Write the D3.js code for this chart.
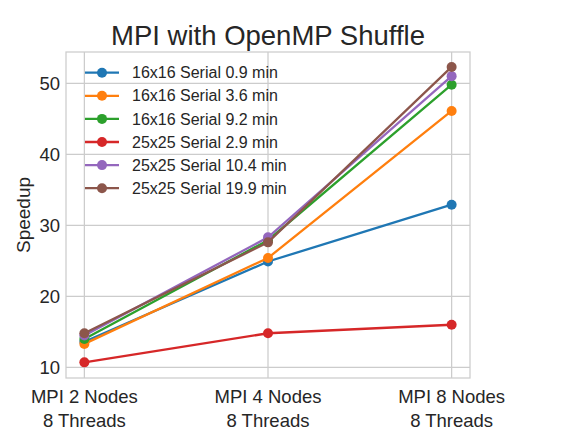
<!DOCTYPE html>
<html><head><meta charset="utf-8">
<script src="https://cdn.jsdelivr.net/npm/d3@7"></script>
<style>body{margin:0;background:#fff}svg{display:block;font-family:"Liberation Sans",Arial,sans-serif}</style>
</head><body><svg id="c" width="576" height="432"></svg>
<script>
const categories = ["MPI 2 Nodes\n8 Threads", "MPI 4 Nodes\n8 Threads", "MPI 8 Nodes\n8 Threads"];
const seriesNames = ["16x16 Serial 0.9 min","16x16 Serial 3.6 min","16x16 Serial 9.2 min","25x25 Serial 2.9 min","25x25 Serial 10.4 min","25x25 Serial 19.9 min"];
const s1 = [13.6, 24.9, 32.9];
const s2 = [13.3, 25.4, 46.1];
const s3 = [14.0, 27.9, 49.8];
const s4 = [10.7, 14.8, 16.0];
const s5 = [14.5, 28.3, 51.0];
const s6 = [14.8, 27.6, 52.3];
const yTicks = [10, 20, 30, 40, 50];
const colors = ["#1f77b4","#ff7f0e","#2ca02c","#d62728","#9467bd","#8c564b"];
const series = [s1,s2,s3,s4,s5,s6];

const svg = d3.select("#c");
const L = 66, R = 470, T = 52, B = 378;
const x = d3.scaleLinear().domain([-0.1, 2.1]).range([L, R]);
const y = d3.scaleLinear().domain([8.5, 54.4]).range([B, T]);

// grid
const g = svg.append("g");
g.selectAll("line.h").data(yTicks).join("line")
  .attr("x1", L).attr("x2", R).attr("y1", d => y(d)).attr("y2", d => y(d))
  .attr("stroke", "#cccccc").attr("stroke-width", 1.25);
g.selectAll("line.v").data(categories.map((c,i)=>i)).join("line")
  .attr("y1", T).attr("y2", B).attr("x1", d => x(d)).attr("x2", d => x(d))
  .attr("stroke", "#cccccc").attr("stroke-width", 1.25);
svg.append("rect").attr("x", L).attr("y", T).attr("width", R-L).attr("height", B-T)
  .attr("fill", "none").attr("stroke", "#cccccc").attr("stroke-width", 1.25);

// y axis
const yAxis = d3.axisLeft(y).tickValues(yTicks).tickSize(0).tickPadding(6);
const ya = svg.append("g").attr("transform", `translate(${L},0)`).call(yAxis);
ya.select(".domain").remove();
ya.selectAll("text").attr("font-size", 18.5).attr("fill", "#262626").attr("font-family", "Liberation Sans, Arial, sans-serif");

// x axis
const xAxis = d3.axisBottom(x).tickValues([0,1,2]).tickSize(0).tickFormat("");
const xa = svg.append("g").attr("transform", `translate(0,${B})`).call(xAxis);
xa.select(".domain").remove();
categories.forEach((c, i) => {
  const lines = c.split("\n");
  const t = svg.append("text").attr("x", x(i)).attr("y", 403).attr("text-anchor", "middle")
    .attr("font-size", 18.5).attr("fill", "#262626");
  lines.forEach((ln, j) => t.append("tspan").attr("x", x(i)).attr("dy", j === 0 ? 0 : 23.5).text(ln));
});

// y label
svg.append("text").attr("transform", `translate(30,${(T+B)/2}) rotate(-90)`).attr("text-anchor", "middle")
  .attr("font-size", 19).attr("fill", "#262626").text("Speedup");

// title
svg.append("text").attr("x", (L+R)/2).attr("y", 45).attr("text-anchor", "middle")
  .attr("font-size", 27.5).attr("fill", "#262626").text("MPI with OpenMP Shuffle");

// lines
const line = d3.line().x((d,i) => x(i)).y(d => y(d));
series.forEach((s, k) => {
  const sg = svg.append("g");
  sg.append("path").datum(s).attr("d", line).attr("fill", "none")
    .attr("stroke", colors[k]).attr("stroke-width", 2.3).attr("stroke-linecap", "round");
  sg.selectAll("circle").data(s).join("circle")
    .attr("cx", (d,i) => x(i)).attr("cy", d => y(d)).attr("r", 5).attr("fill", colors[k]);
});

// legend
const lg = svg.append("g");
seriesNames.forEach((n, k) => {
  const cy = 72.7 + k * 23.1;
  lg.append("line").attr("x1", 85).attr("x2", 119).attr("y1", cy).attr("y2", cy)
    .attr("stroke", colors[k]).attr("stroke-width", 2.3);
  lg.append("circle").attr("cx", 102).attr("cy", cy).attr("r", 5).attr("fill", colors[k]);
  lg.append("text").attr("x", 132).attr("y", cy + 5.6).attr("font-size", 16).attr("fill", "#262626").text(n);
});
</script></body></html>
